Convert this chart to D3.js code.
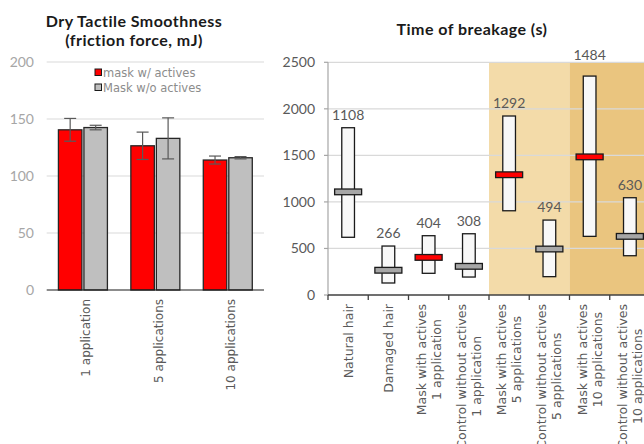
<!DOCTYPE html>
<html>
<head>
<meta charset="utf-8">
<script src="https://cdn.jsdelivr.net/npm/d3@7"></script>
<style>
  body { margin: 0; background: #fff; }
  svg { font-family: "DejaVu Sans", sans-serif; }
  .title { font-family: Lato, sans-serif; font-weight: bold; font-size: 16px; letter-spacing: 0.45px; fill: #1a1a1a; }
  .num { font-family: Lato, sans-serif; }
</style>
</head>
<body>
<div id="chart"></div>
<script>
// Left chart data: dry tactile smoothness.
const smoothCategories = ['1 application', '5 applications', '10 applications'];
const maskWithActives = [140.5, 126.5, 114];
const maskWithActivesErr = [10, 12, 3.5];
const maskWithoutActives = [142.5, 133, 116];
const maskWithoutActivesErr = [2, 18, 1];
const smoothTicks = [0, 50, 100, 150, 200];

// Right chart data: time of breakage.
const breakCategories = [
    ['Natural hair'],
    ['Damaged hair'],
    ['Mask with actives', '1 application'],
    ['Control without actives', '1 application'],
    ['Mask with actives', '5 applications'],
    ['Control without actives', '5 applications'],
    ['Mask with actives', '10 applications'],
    ['Control without actives', '10 applications']
];
const breakMedian = [1108, 266, 404, 308, 1292, 494, 1484, 630];
const breakLow = [620, 129, 233, 193, 905, 197, 630, 422];
const breakHigh = [1797, 526, 637, 658, 1923, 805, 2352, 1045];
const breakWithActives = [false, false, true, false, true, false, true, false];
const breakTicks = [0, 500, 1000, 1500, 2000, 2500];
const shadeBands = [[4, 5, '#f3dba9'], [6, 7, '#eac57f']];

const width = 644, height = 444;

const svg = d3.select('#chart')
    .append('svg')
        .attr('width', width)
        .attr('height', height);

// ---------- Left chart ----------
const left = { x0: 46.7, x1: 264, y0: 290, y1: 62 };

const xL = d3.scaleBand()
    .domain(smoothCategories)
    .range([left.x0, left.x1]);

const yL = d3.scaleLinear().domain([0, 200]).range([left.y0, left.y1]);

const gL = svg.append('g');

gL.append('text')
    .attr('class', 'title')
    .attr('x', 134).attr('y', 27)
    .attr('text-anchor', 'middle')
    .text('Dry Tactile Smoothness');
gL.append('text')
    .attr('class', 'title')
    .attr('x', 134).attr('y', 46)
    .attr('text-anchor', 'middle')
    .text('(friction force, mJ)');

gL.selectAll('.gridL')
    .data(smoothTicks.filter(t => t > 0))
    .join('line')
        .attr('x1', left.x0).attr('x2', left.x1)
        .attr('y1', d => yL(d)).attr('y2', d => yL(d))
        .attr('stroke', '#d9d9d9').attr('stroke-width', 1);

gL.selectAll('.tickL')
    .data(smoothTicks)
    .join('text')
        .attr('class', 'num')
        .attr('x', 34).attr('y', d => yL(d))
        .attr('dy', '0.35em')
        .attr('text-anchor', 'end')
        .attr('font-size', 14).attr('fill', '#a6a6a6')
        .text(d => d);

const barW = 23.5, barGap = 2;
const series = [
    { vals: maskWithActives, err: maskWithActivesErr, color: '#ff0000', off: -barW - barGap / 2 },
    { vals: maskWithoutActives, err: maskWithoutActivesErr, color: '#bfbfbf', off: barGap / 2 }
];

series.forEach(s => {
    const g = gL.append('g');
    g.selectAll('rect')
        .data(smoothCategories)
        .join('rect')
            .attr('x', d => xL(d) + xL.bandwidth() / 2 + s.off)
            .attr('y', (d, i) => yL(s.vals[i]))
            .attr('width', barW)
            .attr('height', (d, i) => yL(0) - yL(s.vals[i]))
            .attr('fill', s.color)
            .attr('stroke', '#262626').attr('stroke-width', 1.3);

    smoothCategories.forEach((c, i) => {
        const cx = xL(c) + xL.bandwidth() / 2 + s.off + barW / 2;
        const hi = yL(s.vals[i] + s.err[i]), lo = yL(s.vals[i] - s.err[i]);
        g.append('line')
            .attr('x1', cx).attr('x2', cx).attr('y1', hi).attr('y2', lo)
            .attr('stroke', '#595959').attr('stroke-width', 1.2);
        [hi, lo].forEach(yy => g.append('line')
            .attr('x1', cx - 6).attr('x2', cx + 6).attr('y1', yy).attr('y2', yy)
            .attr('stroke', '#595959').attr('stroke-width', 1.2));
    });
});

gL.append('line')
    .attr('x1', left.x0).attr('x2', left.x1)
    .attr('y1', yL(0)).attr('y2', yL(0))
    .attr('stroke', '#1a1a1a').attr('stroke-width', 1.2);

gL.selectAll('.catL')
    .data(smoothCategories)
    .join('text')
        .attr('transform', d => `translate(${xL(d) + xL.bandwidth() / 2 + 3}, 299) rotate(-90)`)
        .attr('dy', '0.35em')
        .attr('text-anchor', 'end')
        .attr('font-size', 12).attr('fill', '#595959')
        .text(d => d);

// Legend.
const legend = gL.append('g');
[['mask w/ actives', '#ff0000'], ['Mask w/o actives', '#bfbfbf']].forEach((d, i) => {
    legend.append('rect')
        .attr('x', 95).attr('y', 69 + i * 15)
        .attr('width', 6.5).attr('height', 6.5)
        .attr('fill', d[1]).attr('stroke', '#1a1a1a').attr('stroke-width', 1);
    legend.append('text')
        .attr('x', 103).attr('y', 72.5 + i * 15)
        .attr('dy', '0.35em')
        .attr('font-size', 11.5).attr('fill', '#8c8c8c')
        .text(d[0]);
});

// ---------- Right chart ----------
const right = { x0: 328, x1: 650, y0: 295, y1: 62.3 };

const xR = d3.scaleBand()
    .domain(d3.range(breakCategories.length))
    .range([right.x0, right.x1]);

const yR = d3.scaleLinear().domain([0, 2500]).range([right.y0, right.y1]);

const gR = svg.append('g');

gR.append('text')
    .attr('class', 'title')
    .attr('x', 472).attr('y', 35)
    .attr('text-anchor', 'middle')
    .text('Time of breakage (s)');

gR.selectAll('.shade')
    .data(shadeBands)
    .join('rect')
        .attr('x', d => xR(d[0]))
        .attr('y', yR(2500))
        .attr('width', d => xR(d[1]) + xR.bandwidth() - xR(d[0]))
        .attr('height', yR(0) - yR(2500))
        .attr('fill', d => d[2]);

gR.selectAll('.gridR')
    .data(breakTicks.filter(t => t > 0))
    .join('line')
        .attr('x1', right.x0).attr('x2', right.x1)
        .attr('y1', d => yR(d)).attr('y2', d => yR(d))
        .attr('stroke', '#d9d9d9').attr('stroke-width', 1.2);

// Y axis.
gR.append('line')
    .attr('x1', right.x0).attr('x2', right.x0)
    .attr('y1', yR(2500)).attr('y2', yR(0))
    .attr('stroke', '#a6a6a6').attr('stroke-width', 1.2);
gR.selectAll('.ytickR')
    .data(breakTicks)
    .join('line')
        .attr('x1', right.x0 - 4).attr('x2', right.x0)
        .attr('y1', d => yR(d)).attr('y2', d => yR(d))
        .attr('stroke', '#a6a6a6').attr('stroke-width', 1.2);
gR.selectAll('.ylabR')
    .data(breakTicks)
    .join('text')
        .attr('class', 'num')
        .attr('x', 315).attr('y', d => yR(d))
        .attr('dy', '0.35em')
        .attr('text-anchor', 'end')
        .attr('font-size', 14).attr('fill', '#595959')
        .text(d => d);

// Boxes.
const boxW = 12.7, medW = 27, medH = 5.7;
const boxes = gR.append('g');
breakCategories.forEach((c, i) => {
    const cx = xR(i) + xR.bandwidth() / 2;
    boxes.append('rect')
        .attr('x', cx - boxW / 2).attr('y', yR(breakHigh[i]))
        .attr('width', boxW).attr('height', yR(breakLow[i]) - yR(breakHigh[i]))
        .attr('fill', '#f8f8f8').attr('stroke', '#1a1a1a').attr('stroke-width', 1.3);
    boxes.append('rect')
        .attr('x', cx - medW / 2).attr('y', yR(breakMedian[i]) - medH / 2)
        .attr('width', medW).attr('height', medH)
        .attr('fill', breakWithActives[i] ? '#ff0000' : '#a6a6a6')
        .attr('stroke', '#1a1a1a').attr('stroke-width', 1.3);
    // Labels sit above the box, or above the plot when the box reaches the top.
    let ly = yR(breakHigh[i]) - 8;
    if (ly < yR(2500) + 12) ly = yR(2500) - 2;
    boxes.append('text')
        .attr('class', 'num')
        .attr('x', cx).attr('y', ly)
        .attr('text-anchor', 'middle')
        .attr('font-size', 14).attr('fill', '#595959')
        .text(breakMedian[i]);
});

// X axis.
gR.append('line')
    .attr('x1', right.x0).attr('x2', right.x1)
    .attr('y1', yR(0)).attr('y2', yR(0))
    .attr('stroke', '#404040').attr('stroke-width', 1.3);
gR.selectAll('.xtickR')
    .data(d3.range(breakCategories.length))
    .join('line')
        .attr('x1', d => xR(d)).attr('x2', d => xR(d))
        .attr('y1', yR(0)).attr('y2', yR(0) + 5)
        .attr('stroke', '#404040').attr('stroke-width', 1.3);

// Category labels: rotated, lines centred on each other, block starting below the axis.
const lineGap = 15;
breakCategories.forEach((lines, i) => {
    const cx = xR(i) + xR.bandwidth() / 2;
    const g = gR.append('g')
        .attr('transform', `translate(${cx}, 304) rotate(-90)`);
    const texts = lines.map((t, j) => g.append('text')
        .attr('y', (j - (lines.length - 1) / 2) * lineGap)
        .attr('dy', '0.35em')
        .attr('text-anchor', 'middle')
        .attr('font-size', 12.5).attr('fill', '#595959')
        .text(t));
    const maxW = d3.max(texts, t => t.node().getComputedTextLength());
    texts.forEach(t => t.attr('x', -maxW / 2));
});
</script>
</body>
</html>
